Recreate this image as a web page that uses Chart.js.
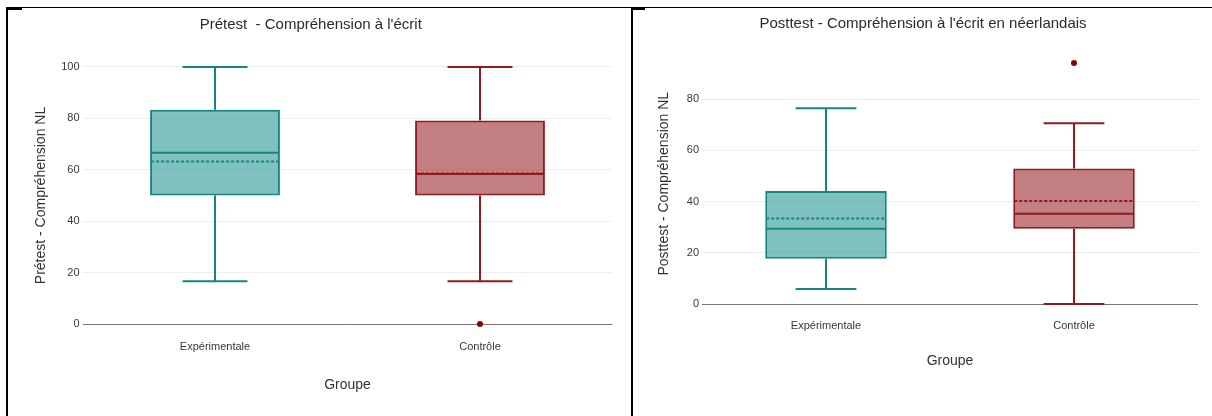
<!DOCTYPE html>
<html>
<head>
<meta charset="utf-8">
<script src="https://cdn.jsdelivr.net/npm/chart.js@4.4.1/dist/chart.umd.min.js"></script>
<style>
  body { margin: 0; background: #fff; width: 1212px; height: 416px; overflow: hidden; position: relative; }
  canvas { position: absolute; }
  .rule { position: absolute; background: #000; }
</style>
</head>
<body>
<canvas id="pretest" width="634" height="406" style="left:9px;top:10px"></canvas>
<canvas id="posttest" width="564" height="406" style="left:648px;top:10px"></canvas>

<!-- bordures du tableau -->
<div class="rule" style="left:7px;top:7px;width:1205px;height:1px"></div>
<div class="rule" style="left:6px;top:7px;width:2px;height:409px"></div>
<div class="rule" style="left:7px;top:7px;width:15px;height:3px"></div>
<div class="rule" style="left:631px;top:7px;width:2px;height:409px"></div>
<div class="rule" style="left:631px;top:7px;width:14px;height:3px"></div>

<script>
// Données
const categories = ['Expérimentale', 'Contrôle'];

// Prétest
const preMin = [16.67, 16.67];
const preQ1 = [50, 50];
const preMedian = [66.67, 58.33];
const preQ3 = [83.33, 79.17];
const preMax = [100, 100];
const preMean = [63.2, 58.6];
const preOutliers = [null, 0];
const preTicks = [0, 20, 40, 60, 80, 100];

// Posttest
const postMin = [5.88, 0];
const postQ1 = [17.65, 29.41];
const postMedian = [29.41, 35.29];
const postQ3 = [44.12, 52.94];
const postMax = [76.47, 70.59];
const postMean = [33.4, 40.2];
const postOutliers = [null, 94.12];
const postTicks = [0, 20, 40, 60, 80];

const fillColors = ['rgba(22,142,136,0.55)', 'rgba(145,22,28,0.55)'];
const lineColors = ['#17857f', '#8f1a1f'];
const FONT = "'Liberation Sans', Arial, sans-serif";

// Moustaches, médiane et moyenne dessinées sur les boîtes
const boxWhiskers = {
  id: 'boxWhiskers',
  afterDatasetsDraw(chart, args, opts) {
    const ctx = chart.ctx;
    const y = chart.scales.y;
    const meta = chart.getDatasetMeta(0);
    meta.data.forEach((bar, i) => {
      const x = bar.x, w = bar.width;
      const line = (x1, v1, x2, v2) => {
        ctx.beginPath();
        ctx.moveTo(x1, y.getPixelForValue(v1));
        ctx.lineTo(x2, y.getPixelForValue(v2));
        ctx.stroke();
      };
      ctx.save();
      ctx.strokeStyle = lineColors[i];
      ctx.lineWidth = 2;
      line(x, opts.q3[i], x, opts.max[i]);
      line(x, opts.q1[i], x, opts.min[i]);
      line(x - w / 4, opts.max[i], x + w / 4, opts.max[i]);
      line(x - w / 4, opts.min[i], x + w / 4, opts.min[i]);
      line(x - w / 2 + 1, opts.median[i], x + w / 2 - 1, opts.median[i]);
      ctx.setLineDash([3, 2]);
      line(x - w / 2 + 1, opts.mean[i], x + w / 2 - 1, opts.mean[i]);
      ctx.restore();
    });
  }
};

function makeChart(id, s) {
  new Chart(document.getElementById(id), {
    data: {
      labels: categories,
      datasets: [{
        type: 'bar',
        data: s.q1.map((v, i) => [v, s.q3[i]]),
        backgroundColor: fillColors,
        borderColor: lineColors,
        borderWidth: 2,
        borderSkipped: false,
        barPercentage: 0.49,
        categoryPercentage: 1
      }, {
        type: 'line',
        data: s.outliers,
        showLine: false,
        pointRadius: 3,
        pointBackgroundColor: '#8b0000',
        pointBorderWidth: 0
      }]
    },
    options: {
      responsive: false,
      animation: false,
      layout: { padding: { left: 0, right: s.padRight, top: 0, bottom: 0 } },
      plugins: {
        legend: { display: false },
        tooltip: { enabled: false },
        title: {
          display: true,
          text: s.title,
          color: '#2a2a2a',
          font: { family: FONT, size: 15, weight: 'normal' },
          padding: { top: s.titleTop, bottom: s.titleBottom }
        },
        boxWhiskers: s
      },
      scales: {
        x: {
          type: 'category',
          grid: { display: false, drawTicks: false },
          border: { display: false },
          ticks: { color: '#383838', font: { family: FONT, size: 11 }, padding: s.xTickPad },
          title: {
            display: true, text: 'Groupe', color: '#333',
            font: { family: FONT, size: 14 },
            padding: { top: 0, bottom: s.xTitlePad }
          },
          afterFit: (sc) => { sc.height = s.xHeight; }
        },
        y: {
          min: s.yMin,
          max: s.yMax,
          grid: {
            drawTicks: false,
            color: (c) => c.tick && c.tick.value === 0 ? '#777' : '#eeeeee'
          },
          border: { display: false },
          ticks: { color: '#383838', font: { family: FONT, size: 11 }, padding: 3 },
          title: {
            display: true, text: s.yTitle, color: '#333',
            font: { family: FONT, size: 14 },
            padding: { top: s.yTitlePad, bottom: 0 }
          },
          afterBuildTicks: (sc) => { sc.ticks = s.ticks.map(v => ({ value: v })); },
          afterFit: (sc) => { sc.width = s.yWidth; }
        }
      }
    },
    plugins: [boxWhiskers]
  });
}

makeChart('pretest', {
  title: 'Prétest  - Compréhension à l\'écrit',
  yTitle: 'Prétest - Compréhension NL',
  min: preMin, q1: preQ1, median: preMedian, q3: preQ3, max: preMax,
  mean: preMean, outliers: preOutliers, ticks: preTicks,
  yMin: -5, yMax: 105,
  padRight: 30.5, yWidth: 73.5, xHeight: 79.15,
  titleTop: 6, titleBottom: 20.15,
  xTickPad: 3.5, xTitlePad: 22.6, yTitlePad: 23.6
});

makeChart('posttest', {
  title: 'Posttest - Compréhension à l\'écrit en néerlandais',
  yTitle: 'Posttest - Compréhension NL',
  min: postMin, q1: postQ1, median: postMedian, q3: postQ3, max: postMax,
  mean: postMean, outliers: postOutliers, ticks: postTicks,
  yMin: -5, yMax: 99,
  padRight: 14, yWidth: 54, xHeight: 99.2,
  titleTop: 5, titleBottom: 17.6,
  xTickPad: 2.3, xTitlePad: 46.9, yTitlePad: 7.6
});
</script>
</body>
</html>
